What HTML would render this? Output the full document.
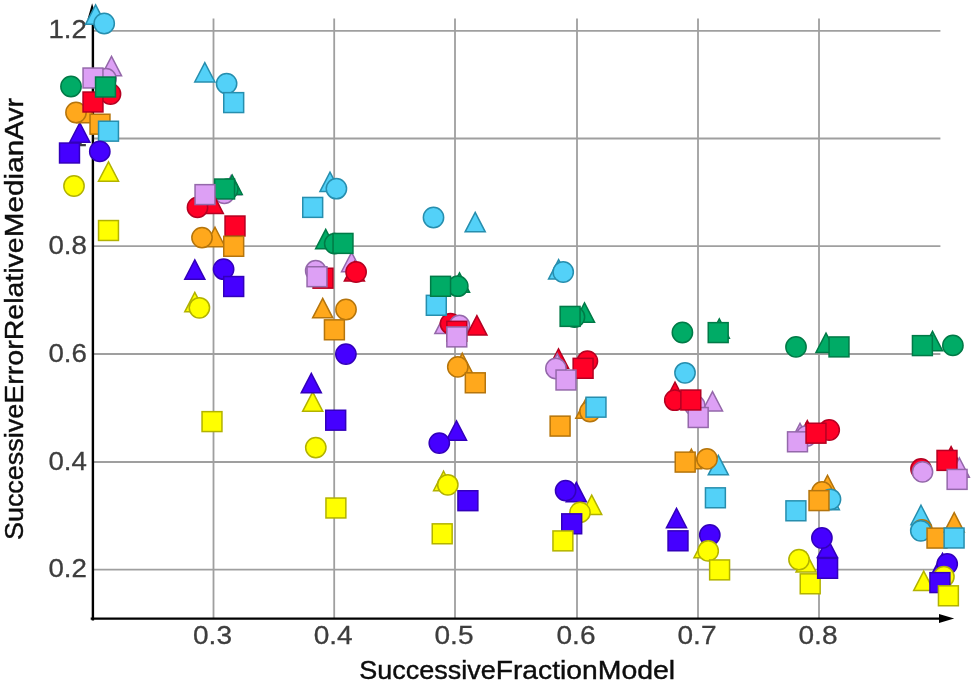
<!DOCTYPE html>
<html><head><meta charset="utf-8"><title>Scatter</title>
<style>
html,body{margin:0;padding:0;background:#fff;}
body{width:972px;height:684px;overflow:hidden;}
svg{display:block;}
text{font-family:"Liberation Sans",sans-serif;font-size:26px;}
.t{fill:#3d3d3d;stroke:#3d3d3d;stroke-width:0.3px;}
.a{fill:#0a0a0a;stroke:#0a0a0a;stroke-width:0.4px;}
.m{stroke-width:1.5;stroke-linejoin:miter;}
</style></head><body>
<svg width="972" height="684" viewBox="0 0 972 684">
<defs><filter id="b" x="0" y="0" width="972" height="684" filterUnits="userSpaceOnUse"><feGaussianBlur stdDeviation="0.4"/></filter></defs>
<rect width="972" height="684" fill="#fff"/>
<g filter="url(#b)">
<rect width="972" height="684" fill="#fff"/>

<g stroke="#9f9f9f" stroke-width="1.8" fill="none">
<line x1="213.5" y1="18.5" x2="213.5" y2="618.6"/>
<line x1="334.2" y1="18.5" x2="334.2" y2="618.6"/>
<line x1="455.0" y1="18.5" x2="455.0" y2="618.6"/>
<line x1="577.0" y1="18.5" x2="577.0" y2="618.6"/>
<line x1="698.0" y1="18.5" x2="698.0" y2="618.6"/>
<line x1="819.0" y1="18.5" x2="819.0" y2="618.6"/>
<line x1="92.9" y1="30.8" x2="940.4" y2="30.8"/>
<line x1="92.9" y1="138.5" x2="940.4" y2="138.5"/>
<line x1="92.9" y1="246.2" x2="940.4" y2="246.2"/>
<line x1="92.9" y1="354.0" x2="940.4" y2="354.0"/>
<line x1="92.9" y1="462.0" x2="940.4" y2="462.0"/>
<line x1="92.9" y1="569.7" x2="940.4" y2="569.7"/>
</g>
<line x1="92.9" y1="17" x2="92.9" y2="620.6" stroke="#000" stroke-width="2.4"/>
<line x1="90.7" y1="618.6" x2="940" y2="618.6" stroke="#000" stroke-width="2.4"/>
<path d="M954.2 618.6L939 614.1L939 623.1Z" fill="#000"/>
<path d="M92.1 3.2L87.6 19L97 19Z" fill="#000"/>
<text class="t" x="86.9" y="38.4" text-anchor="end" textLength="38.5" lengthAdjust="spacingAndGlyphs">1.2</text>
<text class="t" x="86.9" y="146.1" text-anchor="end" textLength="14" lengthAdjust="spacingAndGlyphs">1</text>
<text class="t" x="86.9" y="253.8" text-anchor="end" textLength="38.5" lengthAdjust="spacingAndGlyphs">0.8</text>
<text class="t" x="86.9" y="361.6" text-anchor="end" textLength="38.5" lengthAdjust="spacingAndGlyphs">0.6</text>
<text class="t" x="86.9" y="469.6" text-anchor="end" textLength="38.5" lengthAdjust="spacingAndGlyphs">0.4</text>
<text class="t" x="86.9" y="577.3" text-anchor="end" textLength="38.5" lengthAdjust="spacingAndGlyphs">0.2</text>
<text class="t" x="212.5" y="643.6" text-anchor="middle" textLength="39" lengthAdjust="spacingAndGlyphs">0.3</text>
<text class="t" x="333.2" y="643.6" text-anchor="middle" textLength="39" lengthAdjust="spacingAndGlyphs">0.4</text>
<text class="t" x="454.0" y="643.6" text-anchor="middle" textLength="39" lengthAdjust="spacingAndGlyphs">0.5</text>
<text class="t" x="576.0" y="643.6" text-anchor="middle" textLength="39" lengthAdjust="spacingAndGlyphs">0.6</text>
<text class="t" x="697.0" y="643.6" text-anchor="middle" textLength="39" lengthAdjust="spacingAndGlyphs">0.7</text>
<text class="t" x="818.0" y="643.6" text-anchor="middle" textLength="39" lengthAdjust="spacingAndGlyphs">0.8</text>
<text class="a" y="679.3"><tspan x="359.3" textLength="136.4" lengthAdjust="spacingAndGlyphs">Successive</tspan><tspan x="495.7" textLength="102.0" lengthAdjust="spacingAndGlyphs">Fraction</tspan><tspan x="597.7" textLength="77.5" lengthAdjust="spacingAndGlyphs">Model</tspan></text>
<text class="a" transform="translate(23.3 540.1) rotate(-90)" y="0"><tspan x="0.0" textLength="136.4" lengthAdjust="spacingAndGlyphs">Successive</tspan><tspan x="136.4" textLength="63.4" lengthAdjust="spacingAndGlyphs">Error</tspan><tspan x="199.8" textLength="103.0" lengthAdjust="spacingAndGlyphs">Relative</tspan><tspan x="302.8" textLength="97.5" lengthAdjust="spacingAndGlyphs">Median</tspan><tspan x="400.3" textLength="41.8" lengthAdjust="spacingAndGlyphs">Avr</tspan></text>
<g class="m">
<path d="M95.60 4.95L105.65 24.35L85.55 24.35Z" fill="#52d1f8" stroke="#278eae"/>
<circle cx="104.20" cy="23.50" r="10.15" fill="#52d1f8" stroke="#278eae"/>
<path d="M111.50 56.45L121.55 75.85L101.45 75.85Z" fill="#dda0f5" stroke="#9468aa"/>
<circle cx="106.00" cy="78.60" r="10.15" fill="#dda0f5" stroke="#9468aa"/>
<rect x="83.05" y="68.05" width="19.9" height="19.9" fill="#dda0f5" stroke="#9468aa"/>
<circle cx="110.50" cy="94.00" r="10.15" fill="#ff0028" stroke="#b50020"/>
<circle cx="71.00" cy="86.50" r="10.15" fill="#00ab66" stroke="#007a46"/>
<path d="M79.80 122.85L89.85 142.25L69.75 142.25Z" fill="#4400ff" stroke="#3300bb"/>
<path d="M87.00 103.45L97.05 122.85L76.95 122.85Z" fill="#ffa81c" stroke="#b5740a"/>
<circle cx="76.00" cy="112.50" r="10.15" fill="#ffa81c" stroke="#b5740a"/>
<rect x="83.05" y="92.05" width="19.9" height="19.9" fill="#ff0028" stroke="#b50020"/>
<rect x="95.55" y="77.05" width="19.9" height="19.9" fill="#00ab66" stroke="#007a46"/>
<rect x="90.05" y="114.25" width="19.9" height="19.9" fill="#ffa81c" stroke="#b5740a"/>
<rect x="98.55" y="121.25" width="19.9" height="19.9" fill="#52d1f8" stroke="#278eae"/>
<rect x="59.55" y="143.05" width="19.9" height="19.9" fill="#4400ff" stroke="#3300bb"/>
<circle cx="99.80" cy="151.40" r="10.15" fill="#4400ff" stroke="#3300bb"/>
<circle cx="74.00" cy="186.00" r="10.15" fill="#ffff00" stroke="#b2b200"/>
<path d="M108.50 161.85L118.55 181.25L98.45 181.25Z" fill="#ffff00" stroke="#b2b200"/>
<rect x="98.55" y="220.55" width="19.9" height="19.9" fill="#ffff00" stroke="#b2b200"/>
<path d="M204.80 62.55L214.85 81.95L194.75 81.95Z" fill="#52d1f8" stroke="#278eae"/>
<circle cx="226.60" cy="83.60" r="10.15" fill="#52d1f8" stroke="#278eae"/>
<rect x="223.75" y="92.65" width="19.9" height="19.9" fill="#52d1f8" stroke="#278eae"/>
<path d="M231.20 175.45L241.25 194.85L221.15 194.85Z" fill="#dda0f5" stroke="#9468aa"/>
<path d="M232.20 175.05L242.25 194.45L222.15 194.45Z" fill="#00ab66" stroke="#007a46"/>
<circle cx="227.80" cy="189.20" r="10.15" fill="#00ab66" stroke="#007a46"/>
<circle cx="224.30" cy="193.30" r="10.15" fill="#dda0f5" stroke="#9468aa"/>
<rect x="214.65" y="179.05" width="19.9" height="19.9" fill="#00ab66" stroke="#007a46"/>
<path d="M213.30 194.15L223.35 213.55L203.25 213.55Z" fill="#ff0028" stroke="#b50020"/>
<circle cx="197.50" cy="207.40" r="10.15" fill="#ff0028" stroke="#b50020"/>
<rect x="195.05" y="184.65" width="19.9" height="19.9" fill="#dda0f5" stroke="#9468aa"/>
<rect x="225.05" y="216.05" width="19.9" height="19.9" fill="#ff0028" stroke="#b50020"/>
<path d="M215.00 227.25L225.05 246.65L204.95 246.65Z" fill="#ffa81c" stroke="#b5740a"/>
<circle cx="202.00" cy="237.60" r="10.15" fill="#ffa81c" stroke="#b5740a"/>
<rect x="223.75" y="236.35" width="19.9" height="19.9" fill="#ffa81c" stroke="#b5740a"/>
<path d="M194.80 259.85L204.85 279.25L184.75 279.25Z" fill="#4400ff" stroke="#3300bb"/>
<circle cx="223.60" cy="269.20" r="10.15" fill="#4400ff" stroke="#3300bb"/>
<rect x="223.75" y="276.55" width="19.9" height="19.9" fill="#4400ff" stroke="#3300bb"/>
<path d="M194.80 292.45L204.85 311.85L184.75 311.85Z" fill="#ffff00" stroke="#b2b200"/>
<circle cx="199.40" cy="307.80" r="10.15" fill="#ffff00" stroke="#b2b200"/>
<rect x="202.05" y="411.65" width="19.9" height="19.9" fill="#ffff00" stroke="#b2b200"/>
<path d="M330.00 172.15L340.05 191.55L319.95 191.55Z" fill="#52d1f8" stroke="#278eae"/>
<circle cx="336.40" cy="188.70" r="10.15" fill="#52d1f8" stroke="#278eae"/>
<rect x="302.75" y="197.45" width="19.9" height="19.9" fill="#52d1f8" stroke="#278eae"/>
<path d="M325.70 229.45L335.75 248.85L315.65 248.85Z" fill="#00ab66" stroke="#007a46"/>
<circle cx="334.70" cy="243.60" r="10.15" fill="#00ab66" stroke="#007a46"/>
<path d="M351.60 252.35L361.65 271.75L341.55 271.75Z" fill="#dda0f5" stroke="#9468aa"/>
<rect x="333.05" y="233.45" width="19.9" height="19.9" fill="#00ab66" stroke="#007a46"/>
<circle cx="315.70" cy="270.70" r="10.15" fill="#dda0f5" stroke="#9468aa"/>
<rect x="313.05" y="268.25" width="19.9" height="19.9" fill="#ff0028" stroke="#b50020"/>
<rect x="307.05" y="266.75" width="19.9" height="19.9" fill="#dda0f5" stroke="#9468aa"/>
<path d="M354.40 261.55L364.45 280.95L344.35 280.95Z" fill="#ff0028" stroke="#b50020"/>
<circle cx="356.10" cy="272.00" r="10.15" fill="#ff0028" stroke="#b50020"/>
<path d="M322.70 298.45L332.75 317.85L312.65 317.85Z" fill="#ffa81c" stroke="#b5740a"/>
<circle cx="346.00" cy="309.50" r="10.15" fill="#ffa81c" stroke="#b5740a"/>
<rect x="324.45" y="319.85" width="19.9" height="19.9" fill="#ffa81c" stroke="#b5740a"/>
<circle cx="345.90" cy="354.10" r="10.15" fill="#4400ff" stroke="#3300bb"/>
<path d="M312.70 391.95L322.75 411.35L302.65 411.35Z" fill="#ffff00" stroke="#b2b200"/>
<path d="M311.30 373.45L321.35 392.85L301.25 392.85Z" fill="#4400ff" stroke="#3300bb"/>
<rect x="325.75" y="410.25" width="19.9" height="19.9" fill="#4400ff" stroke="#3300bb"/>
<circle cx="315.80" cy="447.60" r="10.15" fill="#ffff00" stroke="#b2b200"/>
<rect x="325.95" y="498.05" width="19.9" height="19.9" fill="#ffff00" stroke="#b2b200"/>
<circle cx="433.50" cy="217.50" r="10.15" fill="#52d1f8" stroke="#278eae"/>
<path d="M475.20 212.45L485.25 231.85L465.15 231.85Z" fill="#52d1f8" stroke="#278eae"/>
<path d="M459.50 272.85L469.55 292.25L449.45 292.25Z" fill="#00ab66" stroke="#007a46"/>
<circle cx="457.80" cy="286.20" r="10.15" fill="#00ab66" stroke="#007a46"/>
<path d="M444.90 314.15L454.95 333.55L434.85 333.55Z" fill="#dda0f5" stroke="#9468aa"/>
<circle cx="450.50" cy="323.70" r="10.15" fill="#ff0028" stroke="#b50020"/>
<rect x="426.35" y="295.35" width="19.9" height="19.9" fill="#52d1f8" stroke="#278eae"/>
<rect x="430.65" y="276.35" width="19.9" height="19.9" fill="#00ab66" stroke="#007a46"/>
<circle cx="459.40" cy="325.50" r="10.15" fill="#dda0f5" stroke="#9468aa"/>
<path d="M476.90 315.65L486.95 335.05L466.85 335.05Z" fill="#ff0028" stroke="#b50020"/>
<rect x="446.85" y="321.35" width="19.9" height="19.9" fill="#ff0028" stroke="#b50020"/>
<rect x="446.85" y="326.95" width="19.9" height="19.9" fill="#dda0f5" stroke="#9468aa"/>
<path d="M462.30 353.25L472.35 372.65L452.25 372.65Z" fill="#ffa81c" stroke="#b5740a"/>
<circle cx="457.80" cy="366.90" r="10.15" fill="#ffa81c" stroke="#b5740a"/>
<rect x="465.35" y="372.85" width="19.9" height="19.9" fill="#ffa81c" stroke="#b5740a"/>
<path d="M456.50 420.85L466.55 440.25L446.45 440.25Z" fill="#4400ff" stroke="#3300bb"/>
<circle cx="439.30" cy="443.10" r="10.15" fill="#4400ff" stroke="#3300bb"/>
<path d="M443.60 471.25L453.65 490.65L433.55 490.65Z" fill="#ffff00" stroke="#b2b200"/>
<circle cx="447.80" cy="484.80" r="10.15" fill="#ffff00" stroke="#b2b200"/>
<rect x="457.95" y="490.75" width="19.9" height="19.9" fill="#4400ff" stroke="#3300bb"/>
<rect x="432.25" y="523.85" width="19.9" height="19.9" fill="#ffff00" stroke="#b2b200"/>
<path d="M558.60 259.65L568.65 279.05L548.55 279.05Z" fill="#52d1f8" stroke="#278eae"/>
<circle cx="563.20" cy="272.00" r="10.15" fill="#52d1f8" stroke="#278eae"/>
<path d="M584.50 302.95L594.55 322.35L574.45 322.35Z" fill="#00ab66" stroke="#007a46"/>
<circle cx="574.50" cy="317.00" r="10.15" fill="#00ab66" stroke="#007a46"/>
<rect x="560.15" y="306.45" width="19.9" height="19.9" fill="#00ab66" stroke="#007a46"/>
<path d="M558.50 348.85L568.55 368.25L548.45 368.25Z" fill="#ff0028" stroke="#b50020"/>
<path d="M557.30 353.65L567.35 373.05L547.25 373.05Z" fill="#dda0f5" stroke="#9468aa"/>
<circle cx="555.90" cy="368.50" r="10.15" fill="#dda0f5" stroke="#9468aa"/>
<circle cx="587.40" cy="361.10" r="10.15" fill="#ff0028" stroke="#b50020"/>
<rect x="573.15" y="358.35" width="19.9" height="19.9" fill="#ff0028" stroke="#b50020"/>
<rect x="556.05" y="370.05" width="19.9" height="19.9" fill="#dda0f5" stroke="#9468aa"/>
<path d="M585.90 398.75L595.95 418.15L575.85 418.15Z" fill="#ffa81c" stroke="#b5740a"/>
<circle cx="590.00" cy="411.50" r="10.15" fill="#ffa81c" stroke="#b5740a"/>
<rect x="586.05" y="397.25" width="19.9" height="19.9" fill="#52d1f8" stroke="#278eae"/>
<rect x="550.15" y="416.15" width="19.9" height="19.9" fill="#ffa81c" stroke="#b5740a"/>
<path d="M576.30 482.45L586.35 501.85L566.25 501.85Z" fill="#4400ff" stroke="#3300bb"/>
<circle cx="565.60" cy="490.60" r="10.15" fill="#4400ff" stroke="#3300bb"/>
<path d="M591.70 495.15L601.75 514.55L581.65 514.55Z" fill="#ffff00" stroke="#b2b200"/>
<circle cx="580.00" cy="512.40" r="10.15" fill="#ffff00" stroke="#b2b200"/>
<rect x="561.75" y="513.85" width="19.9" height="19.9" fill="#4400ff" stroke="#3300bb"/>
<rect x="552.95" y="530.95" width="19.9" height="19.9" fill="#ffff00" stroke="#b2b200"/>
<circle cx="682.40" cy="332.50" r="10.15" fill="#00ab66" stroke="#007a46"/>
<path d="M719.30 318.85L729.35 338.25L709.25 338.25Z" fill="#00ab66" stroke="#007a46"/>
<rect x="708.25" y="322.65" width="19.9" height="19.9" fill="#00ab66" stroke="#007a46"/>
<circle cx="685.00" cy="372.80" r="10.15" fill="#52d1f8" stroke="#278eae"/>
<path d="M675.00 382.05L685.05 401.45L664.95 401.45Z" fill="#ff0028" stroke="#b50020"/>
<circle cx="674.80" cy="400.20" r="10.15" fill="#ff0028" stroke="#b50020"/>
<path d="M712.50 391.55L722.55 410.95L702.45 410.95Z" fill="#dda0f5" stroke="#9468aa"/>
<circle cx="694.70" cy="405.50" r="10.15" fill="#dda0f5" stroke="#9468aa"/>
<rect x="688.25" y="407.55" width="19.9" height="19.9" fill="#dda0f5" stroke="#9468aa"/>
<rect x="680.85" y="390.05" width="19.9" height="19.9" fill="#ff0028" stroke="#b50020"/>
<path d="M691.40 449.25L701.45 468.65L681.35 468.65Z" fill="#ffa81c" stroke="#b5740a"/>
<rect x="675.25" y="452.15" width="19.9" height="19.9" fill="#ffa81c" stroke="#b5740a"/>
<path d="M718.30 455.45L728.35 474.85L708.25 474.85Z" fill="#52d1f8" stroke="#278eae"/>
<circle cx="707.00" cy="458.90" r="10.15" fill="#ffa81c" stroke="#b5740a"/>
<rect x="705.45" y="487.85" width="19.9" height="19.9" fill="#52d1f8" stroke="#278eae"/>
<path d="M676.50 508.35L686.55 527.75L666.45 527.75Z" fill="#4400ff" stroke="#3300bb"/>
<rect x="668.05" y="530.85" width="19.9" height="19.9" fill="#4400ff" stroke="#3300bb"/>
<path d="M704.00 538.35L714.05 557.75L693.95 557.75Z" fill="#ffff00" stroke="#b2b200"/>
<circle cx="709.80" cy="535.00" r="10.15" fill="#4400ff" stroke="#3300bb"/>
<circle cx="708.20" cy="550.90" r="10.15" fill="#ffff00" stroke="#b2b200"/>
<rect x="709.65" y="559.95" width="19.9" height="19.9" fill="#ffff00" stroke="#b2b200"/>
<circle cx="796.00" cy="346.90" r="10.15" fill="#00ab66" stroke="#007a46"/>
<path d="M826.00 333.05L836.05 352.45L815.95 352.45Z" fill="#00ab66" stroke="#007a46"/>
<rect x="829.05" y="336.95" width="19.9" height="19.9" fill="#00ab66" stroke="#007a46"/>
<path d="M800.00 423.35L810.05 442.75L789.95 442.75Z" fill="#dda0f5" stroke="#9468aa"/>
<path d="M807.30 420.65L817.35 440.05L797.25 440.05Z" fill="#ff0028" stroke="#b50020"/>
<circle cx="806.50" cy="436.00" r="10.15" fill="#dda0f5" stroke="#9468aa"/>
<circle cx="829.20" cy="430.00" r="10.15" fill="#ff0028" stroke="#b50020"/>
<rect x="787.55" y="431.85" width="19.9" height="19.9" fill="#dda0f5" stroke="#9468aa"/>
<rect x="806.05" y="423.25" width="19.9" height="19.9" fill="#ff0028" stroke="#b50020"/>
<path d="M827.50 475.35L837.55 494.75L817.45 494.75Z" fill="#ffa81c" stroke="#b5740a"/>
<circle cx="822.00" cy="492.00" r="10.15" fill="#ffa81c" stroke="#b5740a"/>
<path d="M829.30 490.45L839.35 509.85L819.25 509.85Z" fill="#52d1f8" stroke="#278eae"/>
<circle cx="830.50" cy="499.30" r="10.15" fill="#52d1f8" stroke="#278eae"/>
<rect x="809.05" y="490.65" width="19.9" height="19.9" fill="#ffa81c" stroke="#b5740a"/>
<rect x="785.95" y="500.85" width="19.9" height="19.9" fill="#52d1f8" stroke="#278eae"/>
<path d="M827.40 538.15L837.45 557.55L817.35 557.55Z" fill="#4400ff" stroke="#3300bb"/>
<circle cx="821.90" cy="538.00" r="10.15" fill="#4400ff" stroke="#3300bb"/>
<path d="M806.10 552.65L816.15 572.05L796.05 572.05Z" fill="#ffff00" stroke="#b2b200"/>
<circle cx="799.00" cy="559.60" r="10.15" fill="#ffff00" stroke="#b2b200"/>
<rect x="800.25" y="573.85" width="19.9" height="19.9" fill="#ffff00" stroke="#b2b200"/>
<rect x="817.65" y="558.35" width="19.9" height="19.9" fill="#4400ff" stroke="#3300bb"/>
<path d="M932.50 331.45L942.55 350.85L922.45 350.85Z" fill="#00ab66" stroke="#007a46"/>
<rect x="912.45" y="335.65" width="19.9" height="19.9" fill="#00ab66" stroke="#007a46"/>
<circle cx="952.90" cy="345.40" r="10.15" fill="#00ab66" stroke="#007a46"/>
<circle cx="921.00" cy="469.00" r="10.15" fill="#ff0028" stroke="#b50020"/>
<circle cx="922.50" cy="471.90" r="10.15" fill="#dda0f5" stroke="#9468aa"/>
<path d="M951.10 446.55L961.15 465.95L941.05 465.95Z" fill="#ff0028" stroke="#b50020"/>
<path d="M959.30 457.85L969.35 477.25L949.25 477.25Z" fill="#dda0f5" stroke="#9468aa"/>
<rect x="937.05" y="450.45" width="19.9" height="19.9" fill="#ff0028" stroke="#b50020"/>
<rect x="947.15" y="469.45" width="19.9" height="19.9" fill="#dda0f5" stroke="#9468aa"/>
<path d="M921.00 505.25L931.05 524.65L910.95 524.65Z" fill="#52d1f8" stroke="#278eae"/>
<circle cx="922.00" cy="529.80" r="10.15" fill="#ffa81c" stroke="#b5740a"/>
<circle cx="920.80" cy="530.80" r="10.15" fill="#52d1f8" stroke="#278eae"/>
<rect x="927.05" y="528.15" width="19.9" height="19.9" fill="#ffa81c" stroke="#b5740a"/>
<path d="M954.20 512.65L964.25 532.05L944.15 532.05Z" fill="#ffa81c" stroke="#b5740a"/>
<rect x="944.15" y="528.05" width="19.9" height="19.9" fill="#52d1f8" stroke="#278eae"/>
<path d="M942.50 553.45L952.55 572.85L932.45 572.85Z" fill="#4400ff" stroke="#3300bb"/>
<circle cx="947.20" cy="564.00" r="10.15" fill="#4400ff" stroke="#3300bb"/>
<circle cx="943.90" cy="576.70" r="10.15" fill="#ffff00" stroke="#b2b200"/>
<path d="M923.70 571.15L933.75 590.55L913.65 590.55Z" fill="#ffff00" stroke="#b2b200"/>
<rect x="929.95" y="572.65" width="19.9" height="19.9" fill="#4400ff" stroke="#3300bb"/>
<rect x="938.45" y="585.85" width="19.9" height="19.9" fill="#ffff00" stroke="#b2b200"/>
</g>
</g></svg></body></html>
